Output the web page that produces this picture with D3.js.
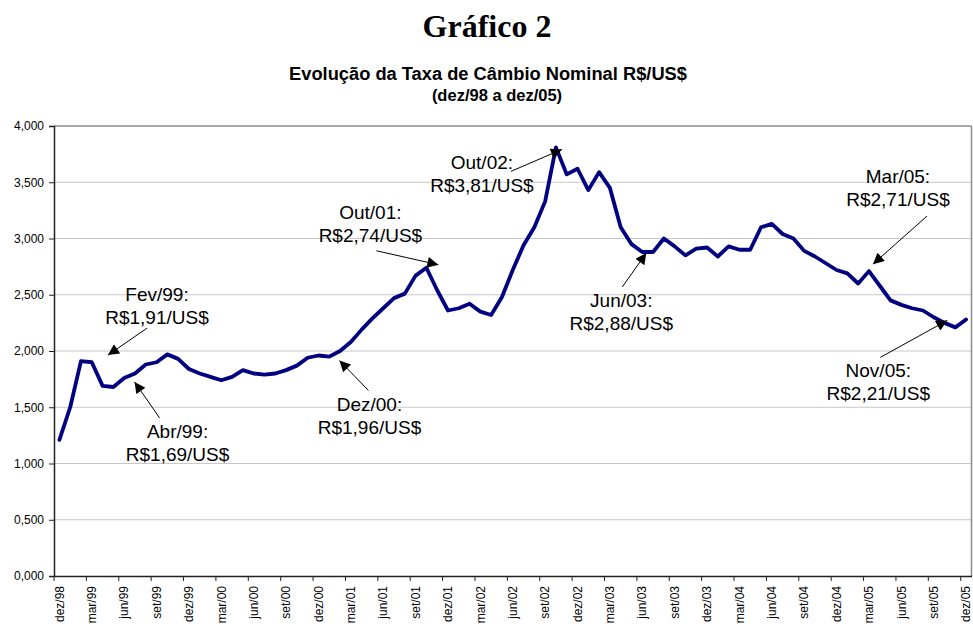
<!DOCTYPE html>
<html>
<head>
<meta charset="utf-8">
<script src="https://cdn.jsdelivr.net/npm/d3@7"></script>
<style>
  body { margin: 0; background: #fff; }
  svg { display: block; font-family: Arial, "Liberation Sans", sans-serif; }
</style>
</head>
<body>
<svg id="chart" width="973" height="627"></svg>
<script>
// categories: dez/98 .. dez/05, monthly
const monthNames = ["jan","fev","mar","abr","mai","jun","jul","ago","set","out","nov","dez"];
const years = ["99","00","01","02","03","04","05"];
const categories = ["dez/98"];
years.forEach(yy => monthNames.forEach(m => categories.push(m + "/" + yy)));

// taxa de cambio (R$/US$), media mensal
const rates = [
  1.21,
  1.50, 1.91, 1.90, 1.69, 1.68, 1.76, 1.80, 1.88, 1.90, 1.97, 1.93, 1.84,
  1.80, 1.77, 1.74, 1.77, 1.83, 1.80, 1.79, 1.80, 1.83, 1.87, 1.94, 1.96,
  1.95, 2.00, 2.08, 2.19, 2.29, 2.38, 2.47, 2.51, 2.67, 2.74, 2.54, 2.36,
  2.38, 2.42, 2.35, 2.32, 2.48, 2.72, 2.94, 3.10, 3.33, 3.81, 3.57, 3.62,
  3.43, 3.59, 3.45, 3.10, 2.95, 2.88, 2.88, 3.00, 2.93, 2.85, 2.91, 2.92,
  2.84, 2.93, 2.90, 2.90, 3.10, 3.13, 3.04, 3.00, 2.89, 2.84, 2.78, 2.72,
  2.69, 2.60, 2.71, 2.58, 2.45, 2.41, 2.38, 2.36, 2.30, 2.25, 2.21, 2.28
];

const yTicks = [0, 0.5, 1, 1.5, 2, 2.5, 3, 3.5, 4];

const noteMonths = ["fev/99", "abr/99", "dez/00", "out/01", "out/02", "jun/03", "mar/05", "nov/05"];
const noteTitles = ["Fev/99:", "Abr/99:", "Dez/00:", "Out/01:", "Out/02:", "Jun/03:", "Mar/05:", "Nov/05:"];
const noteValues = ["R$1,91/US$", "R$1,69/US$", "R$1,96/US$", "R$2,74/US$", "R$3,81/US$", "R$2,88/US$", "R$2,71/US$", "R$2,21/US$"];

// label / arrow placement relative to the annotated point (px)
const noteLayout = [
  { tx: 76, ty: -60, ax: 66, ay: -33, bx: 27, by: -6 },
  { tx: 75, ty: 52, ax: 57, ay: 32, bx: 32, by: -4 },
  { tx: 51, ty: 55, ax: 50, ay: 35, bx: 21, by: 5 },
  { tx: -56, ty: -49, ax: -50, ay: -17, bx: 12, by: -3 },
  { tx: -74, ty: 22, ax: -45, ay: 24, bx: 6, by: 2 },
  { tx: -21, ty: 55, ax: -20, ay: 35, bx: 4, by: 1 },
  { tx: 29, ty: -88, ax: 58, ay: -55, bx: 4, by: -7 },
  { tx: -77, ty: 50, ax: -75, ay: 30, bx: -8, by: -7 }
];

const svg = d3.select("#chart");
const margin = { left: 54, right: 1.5, top: 126, bottom: 51 };
const W = 973, H = 627;

const x = d3.scaleBand().domain(categories).range([margin.left, W - margin.right]).padding(0);
const y = d3.scaleLinear().domain([0, 4]).range([H - margin.bottom, margin.top]);
const half = x.bandwidth() / 2;
const cx = c => x(c) + half;

const loc = d3.formatLocale({ decimal: ",", thousands: ".", grouping: [3], currency: ["R$", ""] });
const fmt = loc.format(".3f");

// titles
svg.append("text")
  .attr("x", 487).attr("y", 37)
  .attr("text-anchor", "middle")
  .attr("font-family", "'Liberation Serif', 'Times New Roman', serif")
  .attr("font-weight", "bold").attr("font-size", "32px")
  .text("Gráfico 2");

svg.append("text")
  .attr("x", 488).attr("y", 80)
  .attr("text-anchor", "middle")
  .attr("font-weight", "bold").attr("font-size", "18.3px")
  .text("Evolução da Taxa de Câmbio Nominal R$/US$");

svg.append("text")
  .attr("x", 497).attr("y", 101)
  .attr("text-anchor", "middle")
  .attr("font-weight", "bold").attr("font-size", "16.5px")
  .text("(dez/98 a dez/05)");

// gridlines
svg.append("g")
  .selectAll("line")
  .data(yTicks.filter(t => t > 0))
  .join("line")
  .attr("x1", margin.left).attr("x2", W - margin.right)
  .attr("y1", d => y(d)).attr("y2", d => y(d))
  .attr("stroke", d => d === 4 ? "#8c8c8c" : "#c8c8c8")
  .attr("stroke-width", d => d === 4 ? 1.5 : 1);

// right border
svg.append("line")
  .attr("x1", W - margin.right).attr("x2", W - margin.right)
  .attr("y1", y(4)).attr("y2", y(0))
  .attr("stroke", "#8c8c8c").attr("stroke-width", 1.5);

// y axis
const yAxis = svg.append("g")
  .attr("transform", `translate(${margin.left},0)`)
  .call(d3.axisLeft(y).tickValues(yTicks).tickFormat(fmt).tickSize(5).tickPadding(5));
yAxis.select(".domain").attr("stroke", "#222").attr("stroke-width", 1.5);
yAxis.selectAll(".tick line").attr("stroke", "#222");
yAxis.selectAll("text")
  .attr("font-family", "Arial, 'Liberation Sans', sans-serif")
  .attr("font-size", "12px").attr("fill", "#000");

// x axis: labels at category centres, ticks on category boundaries
const xTickVals = categories.filter((c, i) => i % 3 === 0);
const xAxis = svg.append("g")
  .attr("transform", `translate(0,${y(0)})`)
  .call(d3.axisBottom(x).tickValues(xTickVals).tickSize(5).tickSizeOuter(0));
xAxis.select(".domain").attr("stroke", "#222").attr("stroke-width", 1.5);
xAxis.selectAll(".tick line")
  .attr("x1", -half).attr("x2", -half)
  .attr("stroke", "#222");
xAxis.selectAll(".tick text")
  .attr("font-family", "Arial, 'Liberation Sans', sans-serif")
  .attr("font-size", "12px").attr("fill", "#000")
  .attr("text-anchor", "end")
  .attr("transform", "rotate(-90)")
  .attr("x", -10).attr("y", 0).attr("dy", "0.35em");

// series
const line = d3.line()
  .x((d, i) => cx(categories[i]))
  .y(d => y(d));

svg.append("path")
  .datum(rates)
  .attr("d", line)
  .attr("fill", "none")
  .attr("stroke", "#000080")
  .attr("stroke-width", 3.8)
  .attr("stroke-linejoin", "round")
  .attr("stroke-linecap", "round");

// annotations
svg.append("defs").append("marker")
  .attr("id", "arrow")
  .attr("viewBox", "0 0 10 10")
  .attr("refX", 10).attr("refY", 5)
  .attr("markerWidth", 13).attr("markerHeight", 11)
  .attr("markerUnits", "userSpaceOnUse")
  .attr("orient", "auto")
  .append("path")
  .attr("d", "M0,0 L10,5 L0,10 Z")
  .attr("fill", "#000");

const notes = svg.append("g");
noteMonths.forEach((m, k) => {
  const i = categories.indexOf(m);
  const px = cx(m), py = y(rates[i]);
  const L = noteLayout[k];

  notes.append("line")
    .attr("x1", px + L.ax).attr("y1", py + L.ay)
    .attr("x2", px + L.bx).attr("y2", py + L.by)
    .attr("stroke", "#000").attr("stroke-width", 1)
    .attr("marker-end", "url(#arrow)");

  const t = notes.append("text")
    .attr("text-anchor", "middle")
    .attr("font-size", "19px").attr("fill", "#000");
  t.append("tspan").attr("x", px + L.tx).attr("y", py + L.ty).text(noteTitles[k]);
  t.append("tspan").attr("x", px + L.tx).attr("y", py + L.ty + 23).text(noteValues[k]);
});
</script>
</body>
</html>
